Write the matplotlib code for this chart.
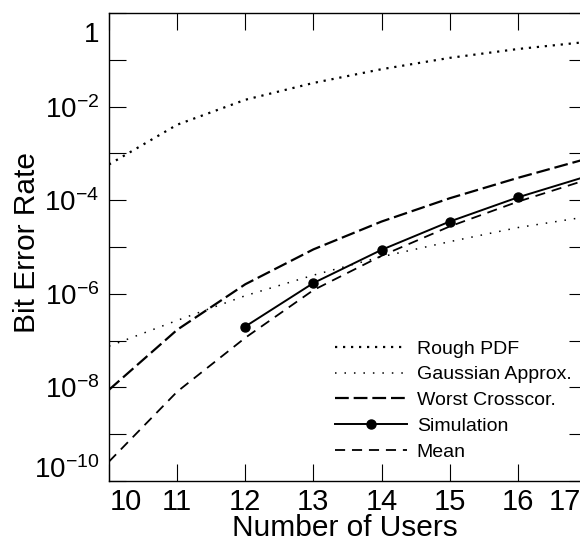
import matplotlib
matplotlib.use('Agg')
import matplotlib.pyplot as plt
from matplotlib.ticker import FixedLocator, FuncFormatter
from matplotlib.transforms import ScaledTranslation
import math

plt.rcParams['font.family'] = ['Liberation Sans', 'DejaVu Sans']
plt.rcParams['mathtext.fontset'] = 'custom'
plt.rcParams['mathtext.rm'] = 'Liberation Sans'
plt.rcParams['mathtext.it'] = 'Liberation Sans:italic'
plt.rcParams['mathtext.bf'] = 'Liberation Sans:bold'
plt.rcParams['axes.unicode_minus'] = False

# data
users = [10, 11, 12, 13, 14, 15, 16, 17]
rough_pdf = [5.8e-4, 4.1e-3, 1.4e-2, 3.2e-2, 6.3e-2, 1.1e-1, 1.7e-1, 2.4e-1]
gauss = [7.6e-8, 2.7e-7, 9.1e-7, 2.5e-6, 6.2e-6, 1.3e-5, 2.6e-5, 4.4e-5]
worst = [8.9e-9, 1.7e-7, 1.6e-6, 8.9e-6, 3.5e-5, 1.1e-4, 3.0e-4, 7.6e-4]
sim_users = [12, 13, 14, 15, 16, 17]
sim = [2.0e-7, 1.7e-6, 8.7e-6, 3.5e-5, 1.15e-4, 3.2e-4]
mean = [2.6e-10, 8.1e-9, 1.15e-7, 1.2e-6, 6.5e-6, 2.75e-5, 9.3e-5, 2.7e-4]

fig = plt.figure(figsize=(5.8, 5.47), dpi=100)
W, H = 580, 547
ax = fig.add_axes([109 / W, 1 - 481 / H, (586 - 109) / W, (481 - 13) / H])

ax.plot(users, rough_pdf, color='black', lw=1.6, dashes=(1, 2.6), label='Rough PDF')
ax.plot(users, gauss, color='black', lw=1.1, dashes=(1, 5.2), label='Gaussian Approx.')
ax.plot(users, worst, color='black', lw=1.6, dashes=(6.2, 2.2), label='Worst Crosscor.')
ax.plot(sim_users, sim, color='black', lw=1.4, marker='o', ms=6.5, label='Simulation')
ax.plot(users, mean, color='black', lw=1.3, dashes=(5.6, 3.8), label='Mean')

ax.set_yscale('log')
ax.set_xlim(10, 17)
ax.set_ylim(1e-10, 1)

decades = [10.0 ** k for k in range(-10, 1)]
ax.yaxis.set_major_locator(FixedLocator(decades))
ax.yaxis.set_minor_locator(FixedLocator([]))


def ylab(v, pos):
    k = int(round(math.log10(v)))
    if k == 0:
        return '1'
    if k % 2:
        return ''
    return r'$\mathregular{10^{%d}}$' % k


ax.yaxis.set_major_formatter(FuncFormatter(ylab))
ax.set_xticks(users)

ax.tick_params(axis='both', which='both', direction='in', length=12, width=0.8,
               top=True, right=True)
ax.tick_params(axis='y', labelsize=20, pad=7)
ax.tick_params(axis='x', labelsize=21, pad=5)
for s in ax.spines.values():
    s.set_linewidth(1.0)

ax.set_xlabel('Number of Users', fontsize=21.5)
ax.set_ylabel('Bit Error Rate', fontsize=21.5)
ax.xaxis.set_label_coords(0.495, -0.07)
ax.yaxis.set_label_coords(-0.142, 0.51)

# shift the edge tick labels inward, as in the original
fig.canvas.draw()
yt = ax.yaxis.get_major_ticks()
xt = ax.xaxis.get_major_ticks()
yt[-1].label1.set_transform(yt[-1].label1.get_transform() + ScaledTranslation(0, -19 / 100, fig.dpi_scale_trans))
yt[0].label1.set_transform(yt[0].label1.get_transform() + ScaledTranslation(0, 14 / 100, fig.dpi_scale_trans))
xt[0].label1.set_transform(xt[0].label1.get_transform() + ScaledTranslation(17 / 100, 0, fig.dpi_scale_trans))
xt[-1].label1.set_transform(xt[-1].label1.get_transform() + ScaledTranslation(-21 / 100, 0, fig.dpi_scale_trans))

leg = ax.legend(loc='upper left', bbox_to_anchor=(335 / W, 1 - 340 / H),
                bbox_transform=fig.transFigure, frameon=False, fontsize=14,
                handlelength=3.7, handletextpad=0.5, labelspacing=0.42,
                borderpad=0, borderaxespad=0, numpoints=1)

fig.savefig('out.png', dpi=100)
